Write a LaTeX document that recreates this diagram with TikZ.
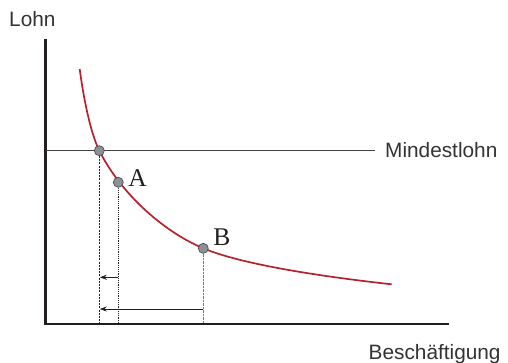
\documentclass[tikz,border=0pt]{standalone}
\usepackage{fontspec}
\setmainfont{Liberation Sans}
\newfontfamily\serifA{Liberation Serif}
\usetikzlibrary{arrows.meta}
\definecolor{curvered}{HTML}{B5222E}
\definecolor{axisdark}{HTML}{231F20}
\definecolor{dotgray}{HTML}{8C9196}
\definecolor{textgray}{HTML}{333333}
\tikzset{
  axisline/.style={axisdark, line width=2.6pt},
  wageline/.style={axisdark!85, line width=0.8pt},
  demand/.style={curvered, line width=1.7pt},
  pt/.style={circle, draw=axisdark!80, line width=0.7pt, fill=dotgray, minimum size=10pt, inner sep=0pt},
  lbl/.style={font=\fontsize{20.8}{24}\selectfont, text=textgray, inner sep=0pt, anchor=base west},
  ptlbl/.style={font=\serifA\fontsize{25.5}{28}\selectfont, text=axisdark, inner sep=0pt},
  drop/.style={axisdark, line width=0.6pt},
  shiftarrow/.style={axisdark, line width=0.6pt, -{Stealth[length=7pt,width=5pt]}}
}
\begin{document}
\begin{tikzpicture}[x=1pt,y=-1pt]
\useasboundingbox (0,0) rectangle (508,363);
% axes
\coordinate (O) at (45.5,324);
\coordinate (ytop) at (45.5,39);
\coordinate (xend) at (449,324);
\draw[axisline] (ytop) -- (O) -- (xend);
% minimum wage line
\coordinate (mw0) at (45.5,150.7);
\coordinate (mw1) at (375,150.7);
\draw[wageline] (mw0) -- (mw1);
% demand curve
\coordinate (cs) at (79.7,69);
\coordinate (ce) at (391.7,284.3);
\draw[demand] (cs) .. controls (83.2,96) and (90.3,132.7) .. (99.3,150.7)
  .. controls (119.8,191.6) and (161.4,230.7) .. (203.3,248.3)
  .. controls (235.3,261.8) and (301.3,274.3) .. (ce);
% points
\node[pt] (P) at (99.3,150.7) {};
\node[pt] (A) at (118.3,182.3) {};
\node[pt] (B) at (203.3,248.3) {};
% axis feet
\coordinate (Pf) at (99.3,323);
\coordinate (Af) at (118.3,323);
\coordinate (Bf) at (203.3,323);
\draw[drop, dash pattern=on 2pt off 1.2pt] (P.south) -- (Pf);
\draw[drop, dash pattern=on 1.2pt off 1pt] (A.south) -- (Af);
\draw[drop, axisdark!60, dash pattern=on 0.8pt off 0.6pt] (B.south) -- (Bf);
% arrows
\coordinate (a1s) at (118.3,277.3);
\coordinate (a1e) at (99.8,277.3);
\coordinate (a2s) at (203.3,309);
\coordinate (a2e) at (99.8,309);
\draw[shiftarrow] (a1s) -- (a1e);
\draw[shiftarrow] (a2s) -- (a2e);
% labels
\node[ptlbl] (Alab) at (137.5,178) {A};
\node[ptlbl] (Blab) at (222,237.5) {B};
\node[lbl] (lohn) at (9,27) {Lohn};
\node[lbl] (mind) at (385,157.5) {Mindestlohn};
\node[lbl] (besch) at (368.5,359) {Beschäftigung};
\end{tikzpicture}
\end{document}
